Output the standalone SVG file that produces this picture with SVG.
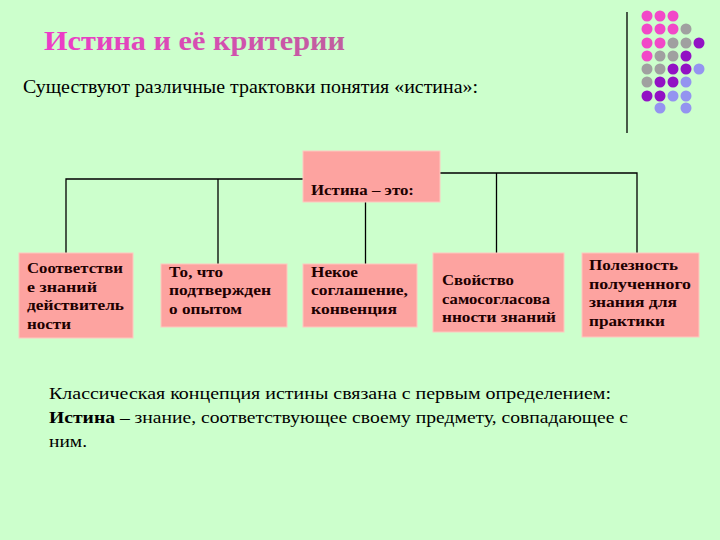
<svg xmlns="http://www.w3.org/2000/svg" width="720" height="540" viewBox="0 0 720 540">
<defs>
<linearGradient id="tg" x1="0" y1="0" x2="1" y2="0">
<stop offset="0" stop-color="#ee3cc8"/>
<stop offset="1" stop-color="#c05e9e"/>
</linearGradient>
<style>
.bg{fill:#ccffcc}
.box{fill:#fda3a0;stroke:#ffc8c0;stroke-width:1}
.ln{stroke:#000;stroke-width:1.3;fill:none}
.pk{fill:#f248c8}.gy{fill:#a0a0a0}.pu{fill:#9212c4}.bl{fill:#9494f0}
</style>
</defs>
<rect class="bg" x="0" y="0" width="720" height="540"/>
<text x="44" y="50" font-family="Liberation Serif, DejaVu Serif, serif" font-weight="bold" font-size="28" fill="url(#tg)" textLength="301" lengthAdjust="spacingAndGlyphs">Истина и её критерии</text>
<text x="23" y="93" font-family="Liberation Serif, DejaVu Serif, serif" font-size="18" fill="#000" textLength="455" lengthAdjust="spacingAndGlyphs">Существуют различные трактовки понятия «истина»:</text>
<g id="decor">
<line x1="627" y1="12" x2="627" y2="133" stroke="#000" stroke-width="1.3"/>
<circle class="pk" cx="647" cy="16" r="5.5"/><circle class="pk" cx="660" cy="16" r="5.5"/><circle class="pk" cx="673" cy="16" r="5.5"/>
<circle class="pk" cx="647" cy="29" r="5.5"/><circle class="pk" cx="660" cy="29" r="5.5"/><circle class="pk" cx="673" cy="29" r="5.5"/><circle class="gy" cx="686" cy="29" r="5.5"/>
<circle class="pk" cx="647" cy="43" r="5.5"/><circle class="pk" cx="660" cy="43" r="5.5"/><circle class="gy" cx="673" cy="43" r="5.5"/><circle class="gy" cx="686" cy="43" r="5.5"/><circle class="pu" cx="699" cy="43" r="5.5"/>
<circle class="pk" cx="647" cy="56" r="5.5"/><circle class="gy" cx="660" cy="56" r="5.5"/><circle class="gy" cx="673" cy="56" r="5.5"/><circle class="pu" cx="686" cy="56" r="5.5"/>
<circle class="gy" cx="647" cy="69" r="5.5"/><circle class="gy" cx="660" cy="69" r="5.5"/><circle class="pu" cx="673" cy="69" r="5.5"/><circle class="pu" cx="686" cy="69" r="5.5"/><circle class="bl" cx="699" cy="69" r="5.5"/>
<circle class="gy" cx="647" cy="82" r="5.5"/><circle class="pu" cx="660" cy="82" r="5.5"/><circle class="pu" cx="673" cy="82" r="5.5"/><circle class="bl" cx="686" cy="82" r="5.5"/>
<circle class="pu" cx="647" cy="96" r="5.5"/><circle class="pu" cx="660" cy="96" r="5.5"/><circle class="bl" cx="673" cy="96" r="5.5"/><circle class="bl" cx="686" cy="96" r="5.5"/>
<circle class="bl" cx="660" cy="108" r="5.5"/><circle class="bl" cx="686" cy="108" r="5.5"/>
</g>
<g id="connectors">
<polyline class="ln" points="303,179 66,179 66,253"/>
<line class="ln" x1="218" y1="179" x2="218" y2="264"/>
<line class="ln" x1="365.5" y1="202" x2="365.5" y2="264"/>
<polyline class="ln" points="440,173 637,173 637,253"/>
<line class="ln" x1="496.5" y1="173" x2="496.5" y2="253"/>
</g>
<g font-family="Liberation Serif, DejaVu Serif, serif" font-weight="bold" font-size="15" fill="#200000">
<g id="root">
<rect class="box" x="303" y="151" width="137" height="51"/>
<text x="311" y="195" textLength="103" lengthAdjust="spacingAndGlyphs">Истина – это:</text>
</g>
<g id="n1">
<rect class="box" x="19" y="253" width="114" height="85"/>
<text x="27" y="273" textLength="96" lengthAdjust="spacingAndGlyphs">Соответстви</text>
<text x="27" y="291.5" textLength="70" lengthAdjust="spacingAndGlyphs">е знаний</text>
<text x="27" y="310" textLength="97" lengthAdjust="spacingAndGlyphs">действитель</text>
<text x="27" y="328.5" textLength="44" lengthAdjust="spacingAndGlyphs">ности</text>
</g>
<g id="n2">
<rect class="box" x="161" y="264" width="126" height="63"/>
<text x="169" y="277" textLength="54" lengthAdjust="spacingAndGlyphs">То, что</text>
<text x="169" y="295" textLength="102" lengthAdjust="spacingAndGlyphs">подтвержден</text>
<text x="169" y="313.5" textLength="73" lengthAdjust="spacingAndGlyphs">о опытом</text>
</g>
<g id="n3">
<rect class="box" x="303" y="264" width="114" height="63"/>
<text x="311" y="277" textLength="47" lengthAdjust="spacingAndGlyphs">Некое</text>
<text x="311" y="295" textLength="97" lengthAdjust="spacingAndGlyphs">соглашение,</text>
<text x="311" y="313.5" textLength="86" lengthAdjust="spacingAndGlyphs">конвенция</text>
</g>
<g id="n4">
<rect class="box" x="433" y="253" width="131" height="79"/>
<text x="442" y="285" textLength="72" lengthAdjust="spacingAndGlyphs">Свойство</text>
<text x="442" y="303.5" textLength="108" lengthAdjust="spacingAndGlyphs">самосогласова</text>
<text x="442" y="322" textLength="114" lengthAdjust="spacingAndGlyphs">нности знаний</text>
</g>
<g id="n5">
<rect class="box" x="582" y="253" width="117" height="84"/>
<text x="589" y="270" textLength="89" lengthAdjust="spacingAndGlyphs">Полезность</text>
<text x="589" y="288.5" textLength="102" lengthAdjust="spacingAndGlyphs">полученного</text>
<text x="589" y="307" textLength="88" lengthAdjust="spacingAndGlyphs">знания для</text>
<text x="589" y="325.5" textLength="76" lengthAdjust="spacingAndGlyphs">практики</text>
</g>
</g>
<g id="note" font-family="Liberation Serif, DejaVu Serif, serif" font-size="17" fill="#000">
<text x="49" y="399" textLength="562" lengthAdjust="spacingAndGlyphs">Классическая концепция истины связана с первым определением:</text>
<text x="49" y="423" textLength="579" lengthAdjust="spacingAndGlyphs"><tspan font-weight="bold">Истина</tspan> – знание, соответствующее своему предмету, совпадающее с</text>
<text x="49" y="447" textLength="38" lengthAdjust="spacingAndGlyphs">ним.</text>
</g>
</svg>
